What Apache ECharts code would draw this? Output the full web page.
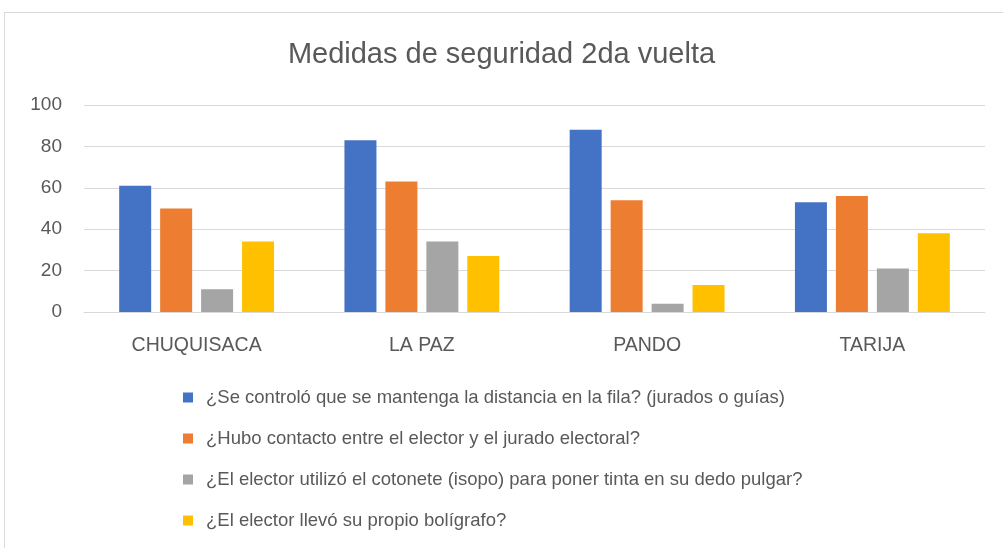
<!DOCTYPE html>
<html style="height: 100%">
<head>
    <meta charset="utf-8">
    <script src="https://cdn.jsdelivr.net/npm/echarts@6/dist/echarts.min.js"></script>
</head>
<body style="height: 100%; margin: 0; background: #fff">
    <div id="frame" style="position: absolute; left: 4px; top: 12px; width: 1010px; height: 550px; border: 1px solid #d9d9d9; box-sizing: border-box;"></div>
    <div id="main" style="position: absolute; left: 0; top: 0; width: 1003px; height: 548px;"></div>
    <script type="text/javascript">
        // categorías y series
        var categories = ['CHUQUISACA', 'LA PAZ', 'PANDO', 'TARIJA'];
        var seriesNames = [
            '¿Se controló que se mantenga la distancia en la fila? (jurados o guías)',
            '¿Hubo contacto entre el elector y el jurado electoral?',
            '¿El elector utilizó el cotonete (isopo) para poner tinta en su dedo pulgar?',
            '¿El elector llevó su propio bolígrafo?'
        ];
        var distancia = [61, 83, 88, 53];
        var contacto = [50, 63, 54, 56];
        var cotonete = [11, 34, 4, 21];
        var boligrafo = [34, 27, 13, 38];
        var colors = ['#4472c4', '#ed7d31', '#a5a5a5', '#ffc000'];

        var font = 'Liberation Sans, Arial, sans-serif';
        var values = [distancia, contacto, cotonete, boligrafo];

        var myChart = echarts.init(document.getElementById('main'));

        var option = {
            color: colors,
            animation: false,
            title: {
                text: 'Medidas de seguridad 2da vuelta',
                left: 'center',
                top: 35,
                textStyle: { fontFamily: font, fontSize: 29, fontWeight: 'normal', color: '#595959' }
            },
            grid: { left: 84, right: 18, top: 105, bottom: 236, containLabel: false },
            legend: {
                orient: 'vertical',
                left: 178,
                top: 383,
                itemWidth: 10,
                itemHeight: 10,
                itemGap: 22,
                icon: 'rect',
                textStyle: { fontFamily: font, fontSize: 18.5, color: '#595959', padding: [0, 0, 0, 8] },
                data: seriesNames
            },
            xAxis: {
                type: 'category',
                data: categories,
                axisLine: { lineStyle: { color: '#d9d9d9', width: 1 } },
                axisTick: { show: false },
                axisLabel: { fontFamily: font, fontSize: 19.5, color: '#595959', margin: 24 }
            },
            yAxis: {
                type: 'value',
                min: 0,
                max: 100,
                interval: 20,
                axisLine: { show: false },
                axisTick: { show: false },
                splitLine: { lineStyle: { color: '#d9d9d9', width: 1 } },
                axisLabel: { fontFamily: font, fontSize: 19, color: '#595959', margin: 22 }
            },
            series: seriesNames.map(function (name, i) {
                return {
                    name: name,
                    type: 'bar',
                    data: values[i],
                    barWidth: 32,
                    barGap: '28%',
                    itemStyle: { color: colors[i] }
                };
            })
        };

        myChart.setOption(option);
    </script>
</body>
</html>
